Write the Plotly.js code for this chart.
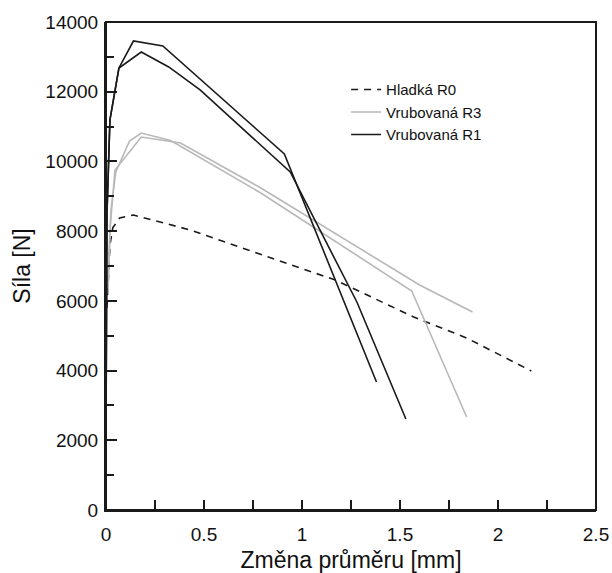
<!DOCTYPE html>
<html>
<head>
<meta charset="utf-8">
<script src="https://cdn.plot.ly/plotly-3.0.1.min.js"></script>
<style>html,body{margin:0;padding:0;background:#fff}#chart{width:612px;height:573px}</style>
</head>
<body>
<div id="chart"></div>
<script>
// Hladká R0 (dashed)
const r0X = [0.005, 0.02, 0.035, 0.07, 0.14, 0.43, 0.68, 1.17, 1.57, 1.84, 2.17];
const r0Y = [5800, 7600, 8100, 8380, 8463, 8033, 7545, 6598, 5537, 4935, 3988];
// Vrubovaná R3 (gray), two specimens
const r3aX = [0.01, 0.02, 0.046, 0.18, 0.38, 0.79, 1.60, 1.87];
const r3aY = [6200, 8033, 9755, 10701, 10529, 9238, 6455, 5680];
const r3bX = [0.01, 0.025, 0.05, 0.12, 0.18, 0.33, 0.79, 1.56, 1.84];
const r3bY = [6400, 8600, 9697, 10587, 10816, 10600, 9094, 6283, 2668];
// Vrubovaná R1 (black), two specimens
const r1aX = [0.0, 0.005, 0.02, 0.066, 0.14, 0.29, 0.91, 1.38];
const r1aY = [2200, 8500, 11189, 12681, 13455, 13312, 10214, 3672];
const r1bX = [0.0, 0.005, 0.02, 0.066, 0.18, 0.32, 0.48, 0.80, 0.94, 1.28, 1.53];
const r1bY = [2200, 8500, 11189, 12681, 13140, 12710, 12050, 10415, 9697, 5967, 2611];

const names = ["Hladká R0", "Vrubovaná R3", "Vrubovaná R1"];
const xTitle = "Změna průměru [mm]";
const yTitle = "Síla [N]";

const FONT = '"Liberation Sans", Arial, sans-serif';
const BLACK = '#1a1a1a', GRAY = '#b8b8b8';

const traces = [
  {x: r0X, y: r0Y, mode: 'lines', name: names[0], line: {color: BLACK, width: 1.6, dash: '7px,6px'}},
  {x: r3aX, y: r3aY, mode: 'lines', name: names[1], legendgroup: 'r3', line: {color: GRAY, width: 1.6}},
  {x: r3bX, y: r3bY, mode: 'lines', name: names[1], legendgroup: 'r3', showlegend: false, line: {color: GRAY, width: 1.6}},
  {x: r1aX, y: r1aY, mode: 'lines', name: names[2], legendgroup: 'r1', line: {color: BLACK, width: 1.6}},
  {x: r1bX, y: r1bY, mode: 'lines', name: names[2], legendgroup: 'r1', showlegend: false, line: {color: BLACK, width: 1.6}}
];

const layout = {
  width: 612, height: 573,
  margin: {l: 106, r: 16, t: 22, b: 63},
  paper_bgcolor: '#ffffff', plot_bgcolor: '#ffffff',
  font: {family: FONT, color: '#111', size: 19},
  showlegend: true,
  legend: {x: 0.49, y: 0.895, xanchor: 'left', yanchor: 'top', bgcolor: 'rgba(0,0,0,0)',
           font: {family: FONT, size: 15, color: '#111'}, tracegroupgap: 0},
  xaxis: {
    range: [0, 2.5], dtick: 0.5, tick0: 0, showgrid: false, zeroline: false,
    showline: true, linecolor: BLACK, linewidth: 2,
    ticks: 'inside', ticklen: 10, tickwidth: 2, tickcolor: BLACK,
    minor: {dtick: 0.25, ticks: 'inside', ticklen: 10, tickwidth: 2, tickcolor: BLACK, showgrid: false},
    tickfont: {family: FONT, size: 19}, ticklabelstandoff: 6,
    title: {text: xTitle, font: {family: FONT, size: 23}, standoff: 12}
  },
  yaxis: {
    range: [0, 14000], dtick: 2000, tick0: 0, tickformat: 'd', showgrid: false, zeroline: false,
    showline: true, linecolor: BLACK, linewidth: 2,
    ticks: 'inside', ticklen: 11, tickwidth: 2, tickcolor: BLACK,
    minor: {dtick: 1000, ticks: 'inside', ticklen: 8, tickwidth: 2, tickcolor: BLACK, showgrid: false},
    tickfont: {family: FONT, size: 19}, ticklabelstandoff: 2,
    title: {text: yTitle, font: {family: FONT, size: 23}, standoff: 8}
  },
  shapes: [
    {type: 'rect', xref: 'paper', yref: 'paper', x0: 0, x1: 1, y0: 0, y1: 1,
     line: {color: BLACK, width: 2}, fillcolor: 'rgba(0,0,0,0)', layer: 'above'}
  ]
};

Plotly.newPlot('chart', traces, layout, {displayModeBar: false, staticPlot: true});
</script>
</body>
</html>
